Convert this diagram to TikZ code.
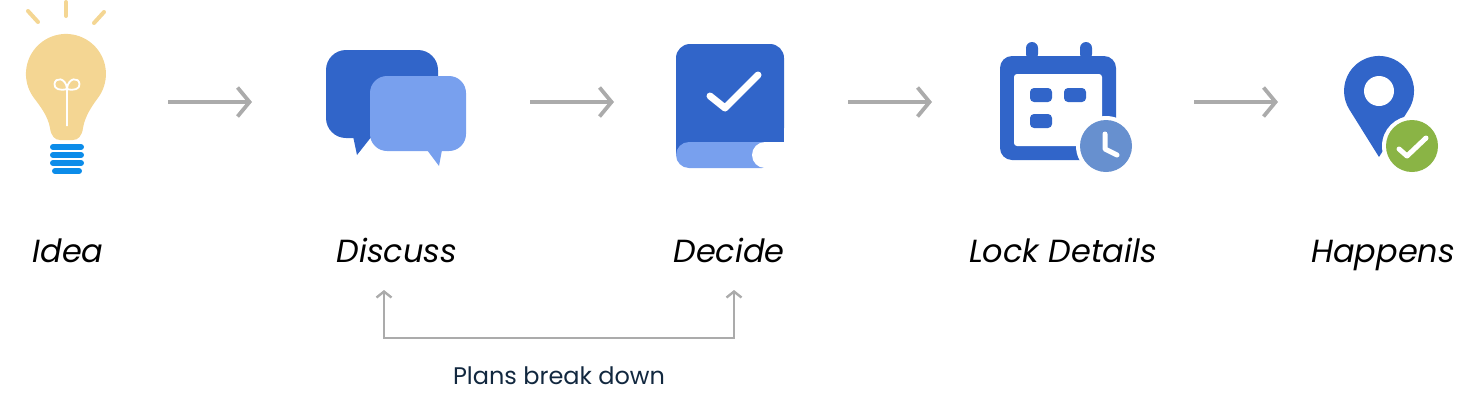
\documentclass[tikz,border=0pt]{standalone}
\usepackage{fontspec}
\setmainfont{Poppins}
\usetikzlibrary{arrows.meta}
\definecolor{iconblue}{HTML}{3165C9}
\definecolor{iconlight}{HTML}{78A0EE}
\definecolor{bulbyellow}{HTML}{F4D693}
\definecolor{bulbbase}{HTML}{0C8CE9}
\definecolor{clockblue}{HTML}{6790CF}
\definecolor{badgegreen}{HTML}{8AB445}
\definecolor{arrowgray}{HTML}{ABABAB}
\definecolor{notetext}{HTML}{12283F}
\tikzset{
    steplabel/.style={font=\fontsize{32}{38}\selectfont\itshape, anchor=base, inner sep=0pt},
    notelabel/.style={font=\fontsize{24}{30}\selectfont, text=notetext, anchor=base, inner sep=0pt},
    flowarrow/.style={draw=arrowgray, line width=3.8pt, -{Straight Barb[length=12pt,width=29pt,line width=3.8pt]}},
    looparrow/.style={draw=arrowgray, line width=2.4pt, {Straight Barb[length=6pt,width=15pt,line width=2.4pt]}-{Straight Barb[length=6pt,width=15pt,line width=2.4pt]}},
    ray/.style={draw=bulbyellow, line width=4pt, line cap=round},
    basebar/.style={draw=bulbbase, line width=6pt, line cap=round},
    tick/.style={draw=white, line width=#1, line cap=round, line join=round},
}
\begin{document}
\begin{tikzpicture}[x=1pt, y=-1pt]
	\useasboundingbox (0,0) rectangle (1474,400);
	% bulb
	\draw[ray] (66,2) -- (66,16);
	\draw[ray] (28,11) -- (38,22);
	\draw[ray] (104,12) -- (94,23);
	\fill[bulbyellow] (34,98) arc[start angle=143,end angle=397,radius=40]
		.. controls (92,106) and (85,116) .. (83,128) .. controls (82,136) and (78,140) .. (73,140)
		-- (60,140) .. controls (55,140) and (51,136) .. (50,128) .. controls (48,116) and (40,106) .. cycle;
	\draw[white, line width=1.8pt] (67,126) -- (67,89) .. controls (60,91) and (54,89) .. (54.5,84) .. controls (55,77) and (66,77) .. (67,89)
		.. controls (68,77) and (79,77) .. (79.5,84) .. controls (80,89) and (74,91) .. (67,89);
	\foreach \y in {147,155,163} \draw[basebar] (53,\y) -- (81,\y);
	\draw[basebar] (55,171) -- (79,171);
	% chat bubbles
	\fill[iconblue, rounded corners=20pt] (326,50) rectangle (438,138);
	\fill[iconblue] (353,136) -- (357,155) -- (372,136) -- cycle;
	\fill[iconlight] (427,150) -- (439,166) -- (442,150) -- cycle;
	\fill[iconlight, rounded corners=17pt] (370,76) rectangle (466,151);
	% book
	\fill[iconblue, rounded corners=14pt] (676,155) -- (676,44) -- (784,44) -- (784,142) -- cycle;
	\fill[iconblue] (676,130) rectangle (784,142);
	\fill[iconblue] (676,142) rectangle (700,155);
	\fill[iconlight, rounded corners=13pt] (676,142) rectangle (775,168);
	\fill[white, rounded corners=13pt] (752,142) -- (752,168) -- (790,168) -- (790,142) -- cycle;
	\draw[tick=7pt] (710,96) -- (725,108) -- (758,75);
	% calendar
	\fill[iconblue, rounded corners=6pt] (1026,60) -- (1026,42) -- (1038,42) -- (1038,60) -- cycle;
	\fill[iconblue, rounded corners=6pt] (1080,60) -- (1080,42) -- (1092,42) -- (1092,60) -- cycle;
	\fill[iconblue, rounded corners=12pt] (1000,56) rectangle (1116,160);
	\fill[white, rounded corners=3pt] (1014,74) rectangle (1102,146);
	\fill[iconblue, rounded corners=4pt] (1030,88) rectangle (1052,102);
	\fill[iconblue, rounded corners=4pt] (1064,88) rectangle (1086,102);
	\fill[iconblue, rounded corners=4pt] (1030,114) rectangle (1052,128);
	\fill[white] (1106,146) circle (30);
	\fill[clockblue] (1106,146) circle (26);
	\draw[tick=5pt] (1105,134) -- (1105,149) -- (1117,155);
	% pin
	\fill[iconblue] (1379,157) -- (1408.7,109.5) arc[start angle=32,end angle=-212,radius=35] -- cycle;
	\fill[white] (1379,91) circle (15);
	\fill[white] (1412,146) circle (30);
	\fill[badgegreen] (1412,146) circle (26);
	\draw[tick=5pt] (1399,149) -- (1407,156) -- (1426,138);
	% labels
	\node[steplabel] (idea) at (68,262) {Idea};
	\node[steplabel] (discuss) at (397,262) {Discuss};
	\node[steplabel] (decide) at (729,262) {Decide};
	\node[steplabel] (lock) at (1063,262) {Lock Details};
	\node[steplabel] (happens) at (1383,262) {Happens};
	\node[notelabel] (plans) at (559,384) {Plans break down};
	% arrows
	\coordinate (ideaout) at (168,102);
	\coordinate (discussin) at (252,102);
	\coordinate (discussout) at (530,102);
	\coordinate (decidein) at (614,102);
	\coordinate (decideout) at (848,102);
	\coordinate (lockin) at (932,102);
	\coordinate (lockout) at (1194,102);
	\coordinate (happensin) at (1278,102);
	\draw[flowarrow] (ideaout) -- (discussin);
	\draw[flowarrow] (discussout) -- (decidein);
	\draw[flowarrow] (decideout) -- (lockin);
	\draw[flowarrow] (lockout) -- (happensin);
	\coordinate (loopleft) at (384,290);
	\coordinate (loopright) at (734,290);
	\coordinate (loopmid) at (559,338);
	\draw[looparrow] (loopleft) |- (loopmid) -| (loopright);
\end{tikzpicture}
\end{document}
